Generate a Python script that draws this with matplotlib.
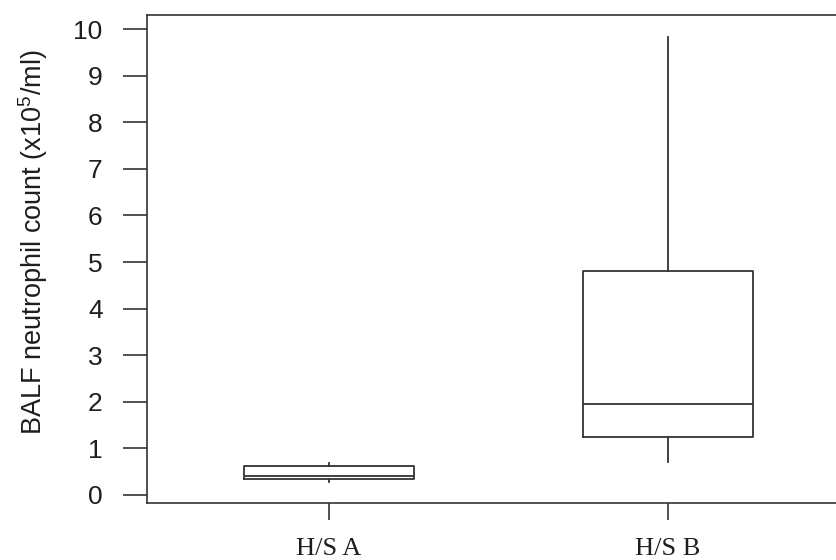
"""Box plot of BALF neutrophil counts for the two H/S groups."""

import matplotlib

matplotlib.use("Agg")
import matplotlib.pyplot as plt

# Five-number summaries per group (x10^5 cells/ml)
groups = ["H/S A", "H/S B"]
whisker_low = [0.28, 0.71]
quartile_1 = [0.34, 1.24]
medians = [0.41, 1.96]
quartile_3 = [0.62, 4.80]
whisker_high = [0.69, 9.83]

y_ticks = list(range(0, 11))

LINE = "#333333"
TEXT = "#1e1e1e"

plt.rcParams["mathtext.default"] = "regular"

stats = [
    {
        "label": name,
        "whislo": lo,
        "q1": q1,
        "med": med,
        "q3": q3,
        "whishi": hi,
        "fliers": [],
    }
    for name, lo, q1, med, q3, hi in zip(
        groups, whisker_low, quartile_1, medians, quartile_3, whisker_high
    )
]

fig = plt.figure(figsize=(8.36, 5.6), dpi=100)
ax = fig.add_axes([0.176, 0.102, 0.824, 0.871])

line_style = {"color": LINE, "linewidth": 1.3}
ax.bxp(
    stats,
    positions=[1, 2],
    widths=0.5,
    showcaps=False,
    showfliers=False,
    boxprops=line_style,
    whiskerprops=line_style,
    medianprops=line_style,
)

ax.set_xlim(0.463, 2.496)
ax.set_ylim(-0.17, 10.3)
ax.set_yticks(y_ticks)
ax.set_yticklabels([str(t) for t in y_ticks], family="Liberation Sans",
                   fontsize=19, color=TEXT)
ax.set_xticks([1, 2])
ax.set_xticklabels(groups, family="Liberation Serif", fontsize=19, color=TEXT)

ax.tick_params(axis="y", direction="out", length=17, width=1.2,
               color=LINE, pad=15)
ax.tick_params(axis="x", direction="out", length=12, width=1.2,
               color=LINE, pad=13)

for side in ("left", "bottom", "top"):
    ax.spines[side].set_color(LINE)
    ax.spines[side].set_linewidth(1.2)
ax.spines["right"].set_visible(False)

ax.set_ylabel("BALF neutrophil count (x10$^5$/ml)", family="Liberation Sans",
              fontsize=19.5, color=TEXT, labelpad=17)
ax.yaxis.label.set_y(0.535)

fig.savefig("out.png", dpi=100)
